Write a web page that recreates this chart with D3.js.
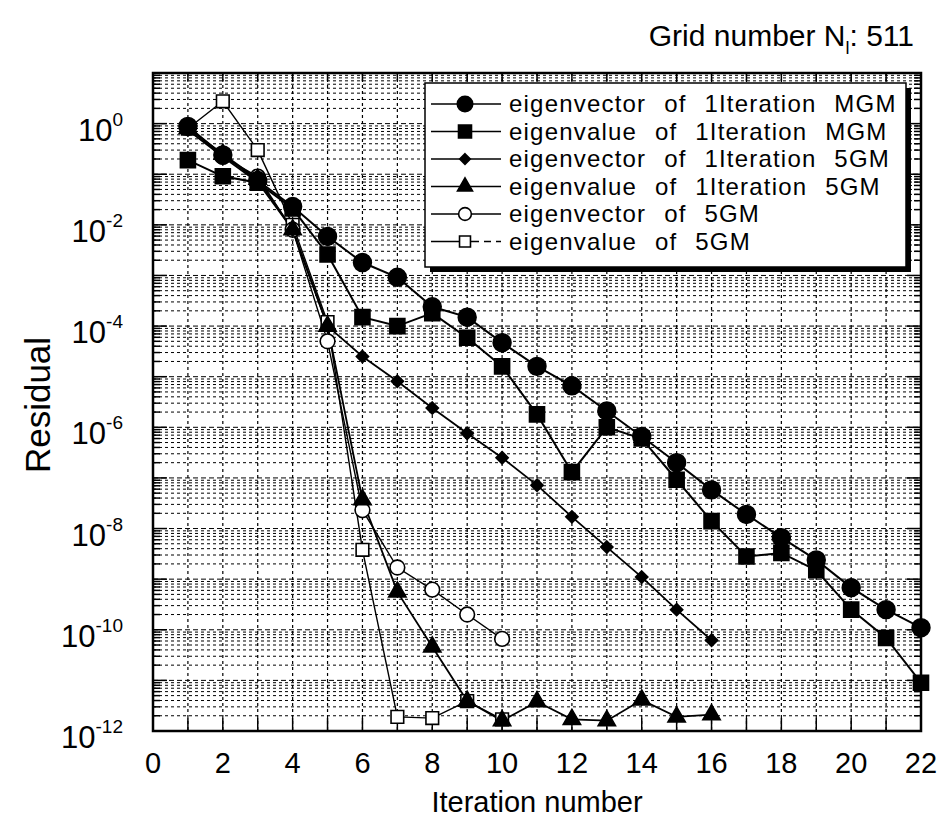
<!DOCTYPE html>
<html>
<head>
<meta charset="utf-8">
<script src="https://cdn.jsdelivr.net/npm/d3@7"></script>
<style>
  body { margin: 0; background: #fff; }
  svg { font-family: "Liberation Sans", Arial, Helvetica, sans-serif; }
</style>
</head>
<body>
<svg id="chart" width="947" height="824"></svg>
<script>
// iteration numbers
var iterLong = [1, 2, 3, 4, 5, 6, 7, 8, 9, 10, 11, 12, 13, 14, 15, 16, 17, 18, 19, 20, 21, 22];
var iterMid = [1, 2, 3, 4, 5, 6, 7, 8, 9, 10, 11, 12, 13, 14, 15, 16];
var iterShort = [1, 2, 3, 4, 5, 6, 7, 8, 9, 10];

// residuals
var vecMGM = [0.88, 0.24, 0.075, 0.023, 5.9e-3, 1.8e-3, 9.2e-4, 2.4e-4, 1.5e-4, 4.7e-5, 1.6e-5,
  6.6e-6, 2.1e-6, 6.6e-7, 2.0e-7, 5.8e-8, 1.9e-8, 6.6e-9, 2.4e-9, 6.8e-10, 2.5e-10, 1.1e-10];
var valMGM = [0.19, 0.091, 0.068, 0.021, 2.6e-3, 1.5e-4, 1.0e-4, 1.8e-4, 5.9e-5, 1.6e-5, 1.8e-6,
  1.3e-7, 1.0e-6, 6.0e-7, 9.2e-8, 1.4e-8, 2.8e-9, 3.3e-9, 1.5e-9, 2.5e-10, 6.9e-11, 9.0e-12];
var vec1It5GM = [0.75, 0.22, 0.07, 8e-3, 1.0e-4, 2.5e-5, 8.1e-6, 2.4e-6, 7.6e-7, 2.5e-7, 7.2e-8,
  1.7e-8, 4.3e-9, 1.1e-9, 2.5e-10, 6.2e-11];
var val1It5GM = [0.8, 0.25, 0.08, 8e-3, 1.0e-4, 3.7e-8, 5.6e-10, 4.6e-11, 3.9e-12, 1.6e-12, 3.8e-12,
  1.7e-12, 1.6e-12, 4.1e-12, 1.9e-12, 2.1e-12];
var vec5GM = [0.85, 0.22, 0.09, 8e-3, 5.0e-5, 2.3e-8, 1.7e-9, 6.2e-10, 2.0e-10, 6.6e-11];
var val5GM = [0.8, 2.76, 0.3, 0.01, 1.2e-4, 3.8e-9, 1.9e-12, 1.8e-12, 3.9e-12, 1.7e-12];

var legendLabels = [
  "eigenvector of 1Iteration MGM",
  "eigenvalue of 1Iteration MGM",
  "eigenvector of 1Iteration 5GM",
  "eigenvalue of 1Iteration 5GM",
  "eigenvector of 5GM",
  "eigenvalue of 5GM"
];
var xTicks = [0, 2, 4, 6, 8, 10, 12, 14, 16, 18, 20, 22];
var yTickExp = [0, -2, -4, -6, -8, -10, -12];

var plotLeft = 153, plotRight = 921, plotTop = 73, plotBottom = 731;
var svg = d3.select("#chart");

var x = d3.scaleLinear().domain([0, 22]).range([plotLeft, plotRight]);
var y = d3.scaleLog().domain([1e-12, 10]).range([plotBottom, plotTop]);

// grid
var grid = svg.append("g");
for (var i = 1; i < 22; i++) {
  grid.append("line")
    .attr("x1", x(i)).attr("x2", x(i))
    .attr("y1", plotTop).attr("y2", plotBottom)
    .attr("stroke", "#000").attr("stroke-width", 1.2)
    .attr("stroke-dasharray", "3,3");
}
for (var k = -12; k <= 0; k++) {
  for (var m = 1; m <= 9; m++) {
    var v = m * Math.pow(10, k);
    var yy = y(v);
    grid.append("line")
      .attr("x1", plotLeft).attr("x2", plotRight)
      .attr("y1", yy).attr("y2", yy)
      .attr("stroke", "#000").attr("stroke-width", 1)
      .attr("stroke-dasharray", m === 1 ? "5,3" : "3,3");
    // ticks on left and right
    var len = m === 1 ? 14 : 7;
    grid.append("line").attr("x1", plotLeft).attr("x2", plotLeft + len).attr("y1", yy).attr("y2", yy)
      .attr("stroke", "#000").attr("stroke-width", 1.5);
    grid.append("line").attr("x1", plotRight).attr("x2", plotRight - len).attr("y1", yy).attr("y2", yy)
      .attr("stroke", "#000").attr("stroke-width", 1.5);
  }
}
for (var i = 1; i < 22; i++) {
  grid.append("line").attr("x1", x(i)).attr("x2", x(i))
    .attr("y1", plotBottom).attr("y2", plotBottom - 13)
    .attr("stroke", "#000").attr("stroke-width", 1.5);
  grid.append("line").attr("x1", x(i)).attr("x2", x(i))
    .attr("y1", plotTop).attr("y2", plotTop + 8)
    .attr("stroke", "#000").attr("stroke-width", 1.5);
}

// frame
svg.append("rect")
  .attr("x", plotLeft).attr("y", plotTop)
  .attr("width", plotRight - plotLeft).attr("height", plotBottom - plotTop)
  .attr("fill", "none").attr("stroke", "#000").attr("stroke-width", 2.5);

// x tick labels
svg.append("g").selectAll("text")
  .data(xTicks)
  .enter()
  .append("text")
  .attr("x", function (d) { return x(d); })
  .attr("y", 773)
  .attr("text-anchor", "middle")
  .attr("font-size", 29)
  .text(function (d) { return d; });

// y tick labels
var yl = svg.append("g").selectAll("text")
  .data(yTickExp)
  .enter()
  .append("text")
  .attr("x", 123)
  .attr("y", function (d) { return y(Math.pow(10, d)) + 17; })
  .attr("text-anchor", "end")
  .attr("font-size", 31);
yl.append("tspan").text("10");
yl.append("tspan").attr("font-size", 19).attr("dy", -15).text(function (d) { return d; });

svg.append("text")
  .attr("x", 537).attr("y", 812)
  .attr("text-anchor", "middle")
  .attr("font-size", 29)
  .text("Iteration number");

svg.append("text")
  .attr("transform", "translate(50,405) rotate(-90)")
  .attr("text-anchor", "middle")
  .attr("font-size", 35)
  .text("Residual");

var title = svg.append("text")
  .attr("x", 914).attr("y", 46)
  .attr("text-anchor", "end")
  .attr("font-size", 30);
title.append("tspan").text("Grid number N");
title.append("tspan").attr("font-size", 18).attr("dy", 8).text("l");
title.append("tspan").attr("dy", -8).text(": 511");

// series
var series = [
  { xs: iterLong, ys: vecMGM, sym: d3.symbolCircle, size: 250, fill: "#000", lw: 2 },
  { xs: iterLong, ys: valMGM, sym: d3.symbolSquare, size: 225, fill: "#000", lw: 2 },
  { xs: iterMid, ys: vec1It5GM, sym: d3.symbolDiamond2, size: 95, fill: "#000", lw: 1.8 },
  { xs: iterMid, ys: val1It5GM, sym: d3.symbolTriangle, size: 130, fill: "#000", lw: 1.8 },
  { xs: iterShort, ys: vec5GM, sym: d3.symbolCircle, size: 170, fill: "#fff", lw: 1.4 },
  { xs: iterShort, ys: val5GM, sym: d3.symbolSquare, size: 160, fill: "#fff", lw: 1.4 }
];

var line = d3.line()
  .x(function (d) { return x(d[0]); })
  .y(function (d) { return y(d[1]); });

var plot = svg.append("g");
series.forEach(function (s) {
  var pts = s.xs.map(function (xv, i) { return [xv, s.ys[i]]; });
  plot.append("path")
    .attr("d", line(pts))
    .attr("fill", "none")
    .attr("stroke", "#000")
    .attr("stroke-width", s.lw);
});
series.slice().reverse().forEach(function (s) {
  var pts = s.xs.map(function (xv, i) { return [xv, s.ys[i]]; });
  plot.selectAll(null)
    .data(pts)
    .enter()
    .append("path")
    .attr("d", d3.symbol().type(s.sym).size(s.size))
    .attr("transform", function (d) { return "translate(" + x(d[0]) + "," + y(d[1]) + ")"; })
    .attr("fill", s.fill)
    .attr("stroke", "#000")
    .attr("stroke-width", 1.6);
});

// legend
var lg = svg.append("g");
var lx = 425, ly = 83, lw = 481, lh = 184;
lg.append("rect").attr("x", lx + 5).attr("y", ly + 5).attr("width", lw).attr("height", lh).attr("fill", "#000");
lg.append("rect").attr("x", lx).attr("y", ly).attr("width", lw).attr("height", lh)
  .attr("fill", "#fff").attr("stroke", "#000").attr("stroke-width", 1.5);

legendLabels.forEach(function (lab, i) {
  var s = series[i];
  var cy = ly + 21 + i * 27.5;
  lg.append("line").attr("x1", lx + 6).attr("x2", lx + 76).attr("y1", cy).attr("y2", cy)
    .attr("stroke", "#000").attr("stroke-width", 1.6)
    .attr("stroke-dasharray", i === 5 ? "48,5,7,5,7" : null);
  lg.append("path")
    .attr("d", d3.symbol().type(s.sym).size(s.size * 0.75))
    .attr("transform", "translate(" + (lx + 40) + "," + cy + ")")
    .attr("fill", s.fill).attr("stroke", "#000").attr("stroke-width", 1.6);
  lg.append("text")
    .attr("x", lx + 84).attr("y", cy + 8)
    .attr("font-size", 24)
    .attr("letter-spacing", 1.2)
    .attr("word-spacing", 10)
    .text(lab);
});
</script>
</body>
</html>
